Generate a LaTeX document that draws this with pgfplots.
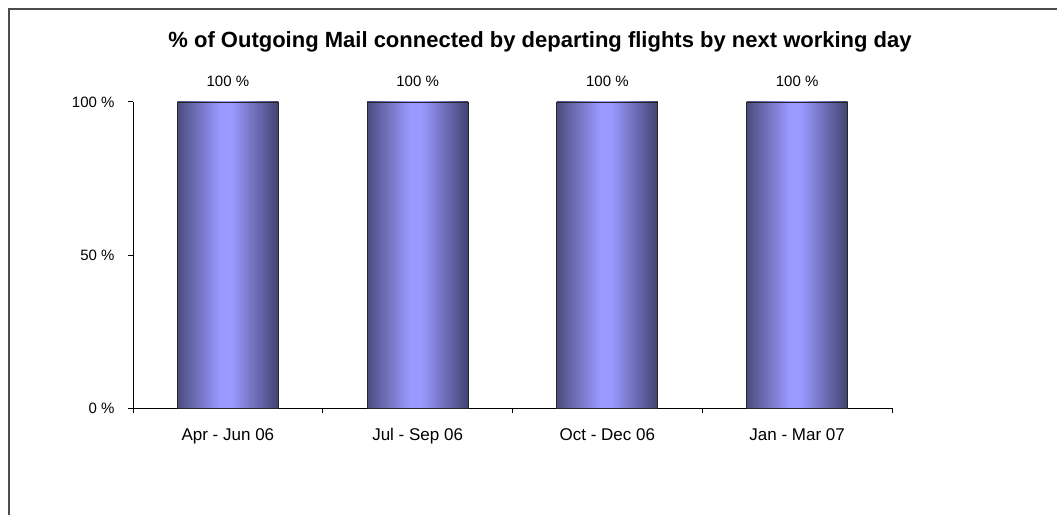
\documentclass[border=0pt]{standalone}
\usepackage{fontspec}
\setmainfont{Liberation Sans}
\usepackage{pgfplots}
\pgfplotsset{compat=1.18}
\pgfdeclarehorizontalshading{barshade}{100bp}{rgb(0bp)=(0.30,0.30,0.50); rgb(25bp)=(0.30,0.30,0.50); rgb(46bp)=(0.60,0.60,1.0); rgb(52bp)=(0.60,0.60,1.0); rgb(75bp)=(0.26,0.26,0.44); rgb(100bp)=(0.26,0.26,0.44)}
\pgfplotsset{
  shadedbar/.style={ybar, bar shift=0pt, bar width=101pt, draw=black!85,
    line width=0.8pt, shading=barshade},
}
\begin{document}
\begin{tikzpicture}
\path[use as bounding box] (0,0) rectangle (1057pt,515pt);
\draw[line width=1.5pt, black!70] (9pt,0) -- (9pt,506pt) -- (1057pt,506pt);
\node[font=\fontsize{22}{26}\selectfont\bfseries] at (540pt,473pt)
  {\% of Outgoing Mail connected by departing flights by next working day};
\begin{axis}[
  at={(133pt,107pt)}, anchor=south west,
  scale only axis, width=759pt, height=306pt,
  axis lines=left, axis line style={-, line width=1pt},
  xmin=-0.5, xmax=3.5, ymin=0, ymax=100,
  ytick={0,50,100}, yticklabels={0 \%,50 \%,100 \%},
  xtick={0,1,2,3},
  xticklabels={Apr - Jun 06,Jul - Sep 06,Oct - Dec 06,Jan - Mar 07},
  minor xtick={-0.5,0.5,1.5,2.5,3.5},
  major x tick style={draw=none},
  tick align=outside, major tick length=5pt, minor tick length=5pt,
  tick style={black, line width=1pt},
  yticklabel style={font=\fontsize{15}{18}\selectfont, xshift=-10pt},
  xticklabel style={font=\fontsize{17}{20}\selectfont, yshift=-12pt},
  clip=false,
  nodes near coords={\pgfmathprintnumber{\pgfplotspointmeta}~\%},
  nodes near coords style={font=\fontsize{15}{18}\selectfont, yshift=12pt,
    /pgf/number format/assume math mode=true},
]
\addplot[shadedbar] coordinates {(0,100)};
\addplot[shadedbar] coordinates {(1,100)};
\addplot[shadedbar] coordinates {(2,100)};
\addplot[shadedbar] coordinates {(3,100)};
\end{axis}
\end{tikzpicture}
\end{document}
